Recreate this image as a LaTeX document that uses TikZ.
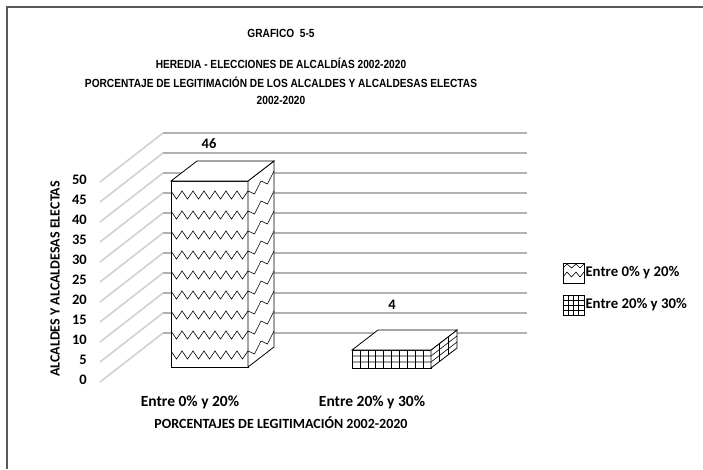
\documentclass[tikz,border=0pt]{standalone}
\usepackage{fontspec}
\setmainfont{Carlito}
\newfontfamily\cb{Carlito Bold}
\newfontfamily\titlefont[FakeStretch=0.86]{Liberation Sans Bold}
\begin{document}
\begin{tikzpicture}[x=1pt,y=-1pt,
  frameline/.style={draw=black!65,line width=2},
  gridh/.style={draw=black!30,line width=1.6},
  gridd/.style={draw=black!18,line width=1.6},
  barface/.style={draw=black,line width=0.8,fill=white},
  pat/.style={draw=black,line width=0.6},
  ttl/.style={font=\titlefont\fontsize{11.8}{13}\selectfont,anchor=center,inner sep=0},
  ticklbl/.style={font=\cb\fontsize{14.5}{16}\selectfont,anchor=east,inner sep=0},
  lbl/.style={font=\cb\fontsize{15.5}{17}\selectfont,inner sep=0},
  vlbl/.style={font=\cb\fontsize{14.5}{16}\selectfont,inner sep=0},
  leg/.style={font=\cb\fontsize{14.8}{17}\selectfont,inner sep=0,anchor=west},
  axt/.style={font=\cb\fontsize{14}{16}\selectfont,inner sep=0}]
\useasboundingbox (0,0) rectangle (703,469);
% frame
\coordinate (fa) at (7,469);
\coordinate (fb) at (7,7);
\coordinate (fc) at (703,7);
\draw[frameline] (fa) -- (fb) -- (fc);
% titles
\node[ttl] (t1) at (281,33) {GRAFICO\ \ 5-5};
\node[ttl] (t2) at (281,63) {HEREDIA - ELECCIONES DE ALCALDÍAS 2002-2020};
\node[ttl] (t3) at (281,82) {PORCENTAJE DE LEGITIMACIÓN DE LOS ALCALDES Y ALCALDESAS ELECTAS};
\node[ttl] (t4) at (281,100) {2002-2020};
% grid
\foreach \k in {0,...,10}{
  \coordinate (f\k) at (100,{382-20*\k});
  \coordinate (b\k) at (163,{333-20*\k});
  \coordinate (e\k) at (527,{333-20*\k});
  \draw[gridd] (f\k) -- (b\k);
  \draw[gridh] (b\k) -- (e\k);
  \pgfmathtruncatemacro\v{5*\k}
  \node[ticklbl] (tk\k) at (87,{380-20*\k}) {\v};
}
% bar 1
\coordinate (a1) at (171,367); \coordinate (a2) at (248,367);
\coordinate (a3) at (248,181); \coordinate (a4) at (171,181);
\coordinate (a5) at (274,347); \coordinate (a6) at (274,161); \coordinate (a7) at (197,161);
\draw[barface] (a1) -- (a2) -- (a3) -- (a4) -- cycle;
\draw[barface] (a2) -- (a5) -- (a6) -- (a3) -- cycle;
\draw[barface] (a4) -- (a3) -- (a6) -- (a7) -- cycle;
\foreach \i in {0,...,8}{
  \pgfmathsetmacro\yy{195+20*\i}
  \draw[pat] (171,\yy-4) \foreach \j in {1,...,14}{ -- ({171+5.5*\j},{\yy+4*(2*mod(\j,2)-1)}) };
  \draw[pat] (248,\yy-4) \foreach \j in {1,...,4}{ -- ({248+6.5*\j},{\yy-5*\j+4*(2*mod(\j,2)-1)}) };
}
\node[vlbl] (v46) at (209,144) {46};
% bar 2
\coordinate (c1) at (352,368); \coordinate (c2) at (431,368);
\coordinate (c3) at (431,350); \coordinate (c4) at (352,350);
\coordinate (c5) at (457,348); \coordinate (c6) at (457,330); \coordinate (c7) at (378,330);
\draw[barface] (c1) -- (c2) -- (c3) -- (c4) -- cycle;
\draw[barface] (c2) -- (c5) -- (c6) -- (c3) -- cycle;
\draw[barface] (c4) -- (c3) -- (c6) -- (c7) -- cycle;
\foreach \i in {1,...,9}{ \draw[pat] ({352+7.9*\i},350) -- ({352+7.9*\i},368); }
\foreach \yy in {356,362}{
  \draw[pat] (352,\yy) -- (431,\yy) -- (457,\yy-20);
}
\foreach \i in {1,2}{ \draw[pat] ({431+26/3*\i},{350-20/3*\i}) -- ({431+26/3*\i},{368-20/3*\i}); }
\node[vlbl] (v4) at (392,305) {4};
% axis labels
\node[lbl] (x1) at (190,402) {Entre 0\% y 20\%};
\node[lbl] (x2) at (372,402) {Entre 20\% y 30\%};
\node[axt] (xt) at (281,423) {PORCENTAJES DE LEGITIMACIÓN 2002-2020};
\node[axt,rotate=90] (yt) at (55,279) {ALCALDES Y ALCALDESAS ELECTAS};
% legend
\node[draw=black,line width=0.6,minimum width=21,minimum height=20,inner sep=0] (l1) at (573.5,273) {};
\draw[pat] (563,268) -- (567,264) -- (571.5,268) -- (576,264) -- (580,268) -- (584,264);
\draw[pat] (563,277) -- (567,272) -- (571.5,277) -- (576,272) -- (580,277) -- (584,272);
\node[draw=black,line width=0.6,minimum width=21,minimum height=20,inner sep=0] (l2) at (573.5,305) {};
\foreach \i in {1,2,3}{
  \draw[pat] ({563+5.25*\i},295) -- ({563+5.25*\i},315);
  \draw[pat] (563,{295+5*\i}) -- (584,{295+5*\i});
}
\node[leg] (lt1) at ([xshift=1]l1.east) {Entre 0\% y 20\%};
\node[leg] (lt2) at ([xshift=1]l2.east) {Entre 20\% y 30\%};
\end{tikzpicture}
\end{document}
